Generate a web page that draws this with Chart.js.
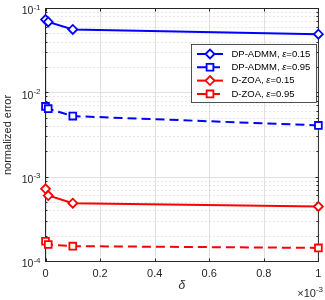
<!DOCTYPE html>
<html>
<head>
<meta charset="utf-8">
<script src="https://cdn.jsdelivr.net/npm/chart.js@4.4.0/dist/chart.umd.min.js"></script>
<style>
html,body{margin:0;padding:0;background:#fff;}
canvas{display:block;}
</style>
</head>
<body>
<canvas id="c" width="325" height="300"></canvas>
<script>
// ---- data (x in units of 1e-3) ----
const deltaValues = [0, 0.01, 0.1, 1];
const dpAdmm015 = [0.0740, 0.0693, 0.0564, 0.0496];
const dpAdmm095 = [0.00691, 0.00649, 0.00530, 0.00411];
const dZoa015 = [0.000728, 0.000606, 0.000491, 0.000449];
const dZoa095 = [0.000174, 0.000159, 0.000152, 0.000145];
const seriesLabels = ['DP-ADMM, ε=0.15', 'DP-ADMM, ε=0.95', 'D-ZOA, ε=0.15', 'D-ZOA, ε=0.95'];
const xTicks = [0, 0.2, 0.4, 0.6, 0.8, 1];
const xTickLabels = ['0', '0.2', '0.4', '0.6', '0.8', '1'];
const yTicks = [1e-4, 1e-3, 1e-2, 1e-1];
const yTickExponents = ['-4', '-3', '-2', '-1'];
const xTitle = 'δ';
const yTitle = 'normalized error';
const xMultiplierExp = '-3';

const FONT = '"Liberation Sans", Arial, Helvetica, sans-serif';
const AXIS_COLOR = '#262626';

function pts(ys){ return deltaValues.map((x,i)=>({x:x, y:ys[i]})); }

function mkDs(label, ys, color, dashed, style){
  return {
    label: label, data: pts(ys),
    borderColor: color, backgroundColor: color,
    borderWidth: 2, borderDash: dashed ? [9,5] : [],
    pointStyle: style, pointRadius: style === 'rectRot' ? 4.5 : 4.8,
    pointBorderWidth: 1.8, pointBackgroundColor: '#ffffff', pointBorderColor: color,
    tension: 0, clip: false, fill: false
  };
}

const datasets = [
  mkDs(seriesLabels[0], dpAdmm015, '#0000ff', false, 'rectRot'),
  mkDs(seriesLabels[1], dpAdmm095, '#0000ff', true, 'rect'),
  mkDs(seriesLabels[2], dZoa015, '#ff0000', false, 'rectRot'),
  mkDs(seriesLabels[3], dZoa095, '#ff0000', true, 'rect')
];

function line(ctx,x1,y1,x2,y2){ ctx.beginPath(); ctx.moveTo(x1,y1); ctx.lineTo(x2,y2); ctx.stroke(); }

const matlabAxes = {
  id: 'matlabAxes',
  beforeDatasetsDraw(chart){
    const ctx = chart.ctx, a = chart.chartArea, x = chart.scales.x, y = chart.scales.y;
    ctx.save();
    ctx.lineWidth = 1;
    // major grid
    ctx.strokeStyle = '#e0e0e0';
    xTicks.forEach(v => { const p = Math.round(x.getPixelForValue(v)) + 0.5; line(ctx,p,a.top,p,a.bottom); });
    yTicks.forEach(v => { const p = Math.round(y.getPixelForValue(v) - 0.5) + 0.5; line(ctx,a.left,p,a.right,p); });
    // minor grid (dotted)
    ctx.strokeStyle = '#cfcfcf';
    ctx.setLineDash([1,3]);
    const minors = [];
    for (let i = 0; i < yTicks.length - 1; i++) for (let m = 2; m <= 9; m++) minors.push(m * yTicks[i]);
    minors.forEach(v => { const p = Math.round(y.getPixelForValue(v) - 0.5) + 0.5; line(ctx,a.left,p,a.right,p); });
    ctx.setLineDash([]);
    // box
    ctx.strokeStyle = AXIS_COLOR;
    ctx.strokeRect(a.left, a.top, a.right - a.left, a.bottom - a.top);
    // ticks
    xTicks.forEach(v => { const p = Math.round(x.getPixelForValue(v)) + 0.5; line(ctx,p,a.bottom,p,a.bottom-3); line(ctx,p,a.top,p,a.top+3); });
    yTicks.forEach(v => { const p = Math.round(y.getPixelForValue(v) - 0.5) + 0.5; line(ctx,a.left,p,a.left+3,p); line(ctx,a.right,p,a.right-3,p); });
    minors.forEach(v => { const p = Math.round(y.getPixelForValue(v) - 0.5) + 0.5; line(ctx,a.left,p,a.left+2,p); line(ctx,a.right,p,a.right-2,p); });

    // tick labels
    ctx.fillStyle = AXIS_COLOR;
    ctx.font = '11px ' + FONT;
    ctx.textAlign = 'center'; ctx.textBaseline = 'middle';
    xTicks.forEach((v,i) => ctx.fillText(xTickLabels[i], x.getPixelForValue(v), a.bottom + 12));
    yTicks.forEach((v,i) => {
      const p = y.getPixelForValue(v);
      ctx.font = '8px ' + FONT;
      const ew = ctx.measureText(yTickExponents[i]).width;
      ctx.textAlign = 'left';
      ctx.fillText(yTickExponents[i], 40.5 - ew, p - 1);
      ctx.font = '10.5px ' + FONT;
      ctx.textAlign = 'right';
      ctx.fillText('10', 40.5 - ew, p + 3);
    });
    // x multiplier
    ctx.font = '8px ' + FONT;
    const mw = ctx.measureText(xMultiplierExp).width;
    ctx.textAlign = 'left';
    ctx.fillText(xMultiplierExp, 323 - mw, 289.5);
    ctx.font = '11px ' + FONT;
    ctx.textAlign = 'right';
    ctx.fillText('×10', 323 - mw, 293.5);
    // titles
    ctx.textAlign = 'center';
    ctx.font = 'italic 12px ' + FONT;
    ctx.fillText(xTitle, (a.left + a.right) / 2, 286);
    ctx.save();
    ctx.translate(8, (a.top + a.bottom) / 2);
    ctx.rotate(-Math.PI / 2);
    ctx.font = '11px ' + FONT;
    ctx.fillText(yTitle, 0, 0);
    ctx.restore();
    ctx.restore();
  },
  afterDatasetsDraw(chart){
    const ctx = chart.ctx;
    ctx.save();
    const bx = 191.5, by = 44.5, bw = 125, bh = 58;
    ctx.fillStyle = '#ffffff';
    ctx.fillRect(bx, by, bw, bh);
    ctx.strokeStyle = AXIS_COLOR; ctx.lineWidth = 0.8;
    ctx.strokeRect(bx, by, bw, bh);
    chart.data.datasets.forEach((ds, i) => {
      const cy = 54 + i * 13.3;
      ctx.strokeStyle = ds.borderColor; ctx.lineWidth = 2;
      ctx.setLineDash(ds.borderDash);
      line(ctx, 197, cy, 223, cy);
      ctx.setLineDash([]);
      ctx.fillStyle = '#ffffff'; ctx.strokeStyle = ds.borderColor; ctx.lineWidth = ds.pointBorderWidth;
      Chart.helpers.drawPoint(ctx, {pointStyle: ds.pointStyle, radius: ds.pointRadius, rotation: 0, borderWidth: ds.pointBorderWidth}, 210, cy);
      // text with italic epsilon
      const parts = ds.label.split('ε');
      ctx.fillStyle = '#000000';
      ctx.textAlign = 'left'; ctx.textBaseline = 'middle';
      let tx = 231.5;
      ctx.font = '9.5px ' + FONT;
      ctx.fillText(parts[0], tx, cy); tx += ctx.measureText(parts[0]).width;
      ctx.font = 'italic 9.5px ' + FONT;
      ctx.fillText('ε', tx, cy); tx += ctx.measureText('ε').width;
      ctx.font = '9.5px ' + FONT;
      ctx.fillText(parts[1], tx, cy);
    });
    ctx.restore();
  }
};

new Chart(document.getElementById('c'), {
  type: 'line',
  data: { datasets: datasets },
  options: {
    responsive: false, animation: false, devicePixelRatio: 1,
    layout: { padding: { left: 45.5, top: 8.5, right: 3.5, bottom: 38.5 } },
    plugins: { legend: { display: false }, tooltip: { enabled: false } },
    scales: {
      x: { type: 'linear', min: 0, max: 1, display: false },
      y: { type: 'logarithmic', min: 1e-4, max: 1e-1, display: false }
    }
  },
  plugins: [matlabAxes]
});
</script>
</body>
</html>
